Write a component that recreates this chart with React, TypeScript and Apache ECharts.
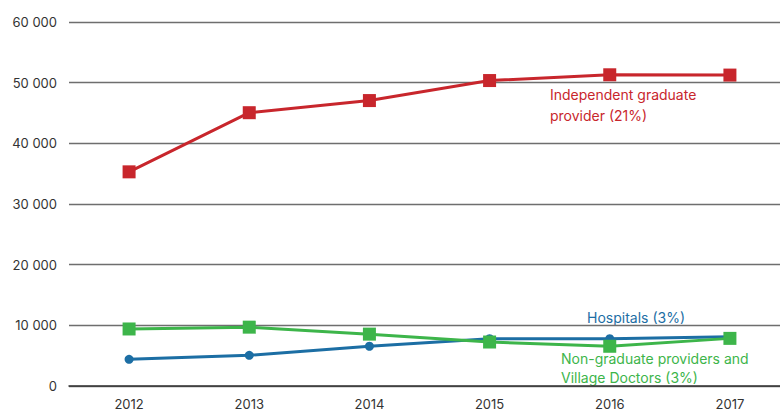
import React, { useEffect, useRef } from "react";
import * as echarts from "echarts";

const years = ["2012", "2013", "2014", "2015", "2016", "2017"];
const independentGraduate = [35300, 45050, 47050, 50350, 51300, 51250];
const nonGraduate = [9400, 9700, 8550, 7250, 6550, 7850];
const hospitals = [4400, 5050, 6550, 7800, 7800, 8100];
const yTicks = [0, 10000, 20000, 30000, 40000, 50000, 60000];

const RED = "#c8262c";
const GREEN = "#3db54a";
const BLUE = "#1c6ea4";
const FONT = "Inter, Roboto, 'Noto Sans', sans-serif";

export default function App() {
  const ref = useRef<HTMLDivElement>(null);
  useEffect(() => {
    document.body.style.margin = "0";
    const chart = echarts.init(ref.current!, null, { renderer: "svg" });
    chart.setOption({
      animation: false,
      grid: { left: 69, right: 10, top: 22, bottom: 23.5, containLabel: false },
      xAxis: {
        type: "category",
        data: years,
        boundaryGap: true,
        axisLine: { show: true, lineStyle: { color: "#333", width: 1.5 } },
        axisTick: { show: false },
        axisLabel: { color: "#333", fontSize: 13, fontFamily: FONT, margin: 11 },
      },
      yAxis: {
        type: "value",
        min: yTicks[0],
        max: yTicks[yTicks.length - 1],
        interval: 10000,
        axisLine: { show: false },
        axisTick: { show: false },
        splitLine: { show: true, lineStyle: { color: "#6e6e6e", width: 1.3 } },
        axisLabel: {
          color: "#333",
          fontSize: 13,
          fontFamily: FONT,
          margin: 12,
          formatter: (v: number) => (v === 0 ? "0" : String(v).replace(/\B(?=(\d{3})+(?!\d))/g, " ")),
        },
      },
      series: [
        {
          name: "Hospitals (3%)",
          type: "line",
          data: hospitals,
          symbol: "circle",
          symbolSize: 9,
          lineStyle: { color: BLUE, width: 3 },
          itemStyle: { color: BLUE },
          z: 2,
        },
        {
          name: "Non-graduate providers and Village Doctors (3%)",
          type: "line",
          data: nonGraduate,
          symbol: "rect",
          symbolSize: 13,
          lineStyle: { color: GREEN, width: 3 },
          itemStyle: { color: GREEN },
          z: 3,
        },
        {
          name: "Independent graduate provider (21%)",
          type: "line",
          data: independentGraduate,
          symbol: "rect",
          symbolSize: 13,
          lineStyle: { color: RED, width: 3 },
          itemStyle: { color: RED },
          z: 4,
        },
      ],
      graphic: [
        {
          type: "text",
          left: 550,
          top: 84,
          style: {
            text: "Independent graduate\nprovider (21%)",
            fill: RED,
            fontSize: 14,
            lineHeight: 21,
            fontFamily: FONT,
          },
        },
        {
          type: "text",
          left: 587,
          top: 308,
          style: {
            text: "Hospitals (3%)",
            fill: BLUE,
            fontSize: 14,
            lineHeight: 18,
            fontFamily: FONT,
          },
        },
        {
          type: "text",
          left: 561,
          top: 349,
          style: {
            text: "Non-graduate providers and\nVillage Doctors (3%)",
            fill: GREEN,
            fontSize: 14,
            lineHeight: 19,
            fontFamily: FONT,
          },
        },
      ],
    });
    return () => chart.dispose();
  }, []);
  return (
    <div style={{ width: 780, height: 410, overflow: "hidden", position: "relative" }}>
      <div ref={ref} style={{ width: 800, height: 410 }} />
    </div>
  );
}
